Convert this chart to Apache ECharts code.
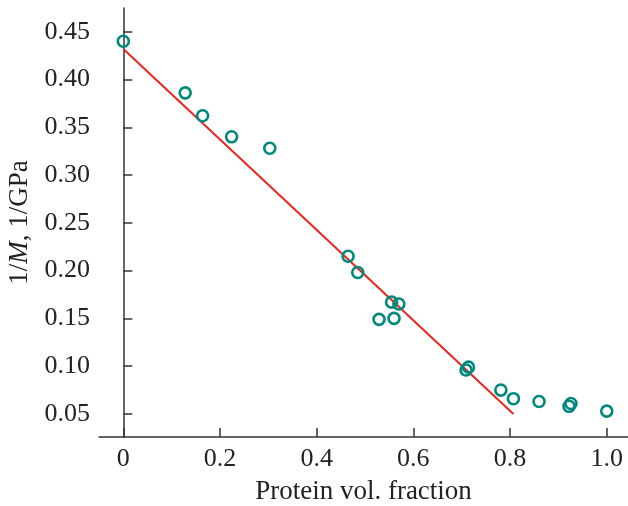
<!DOCTYPE html>
<html>
<head>
<meta charset="utf-8">
<script src="https://cdn.jsdelivr.net/npm/echarts@6/dist/echarts.min.js"></script>
<style>
  html, body { margin: 0; padding: 0; background: #fff; }
  #chart { width: 628px; height: 506px; }
</style>
</head>
<body>
<div id="chart"></div>
<script>
// measured points: protein vol. fraction vs 1/M
var fraction = [0, 0.128, 0.164, 0.224, 0.303, 0.465, 0.485, 0.555, 0.570, 0.529, 0.560,
  0.709, 0.714, 0.781, 0.807, 0.860, 0.922, 0.926, 1.0];
var invModulus = [0.440, 0.386, 0.362, 0.340, 0.328, 0.215, 0.198, 0.167, 0.165, 0.149, 0.150,
  0.096, 0.099, 0.075, 0.066, 0.063, 0.058, 0.061, 0.053];
// linear fit ends
var fitX = [0, 0.807];
var fitY = [0.432, 0.050];
var xTicks = [0, 0.2, 0.4, 0.6, 0.8, 1.0];
var yTicks = [0.05, 0.10, 0.15, 0.20, 0.25, 0.30, 0.35, 0.40, 0.45];

var font = '"Liberation Serif", serif';
var chart = echarts.init(document.getElementById('chart'));

var points = fraction.map(function (x, i) { return [x, invModulus[i]]; });
var fit = fitX.map(function (x, i) { return [x, fitY[i]]; });

chart.setOption({
  animation: false,
  grid: { left: 99, right: 0, top: 8, bottom: 69, containLabel: false, outerBoundsMode: 'none' },
  xAxis: {
    type: 'value',
    min: -0.0503,
    max: 1.044,
    name: 'Protein vol. fraction',
    nameLocation: 'middle',
    nameGap: 41,
    nameTextStyle: { fontFamily: font, fontSize: 27, color: '#222' },
    splitLine: { show: false },
    axisLine: { lineStyle: { color: '#333', width: 1.5 } },
    axisTick: { inside: true, length: 9, lineStyle: { color: '#333', width: 1.5 }, customValues: xTicks },
    axisLabel: {
      customValues: xTicks,
      margin: 9,
      fontFamily: font, fontSize: 26, color: '#222',
      formatter: function (v) { return v === 0 ? '0' : v.toFixed(1); }
    }
  },
  yAxis: {
    type: 'value',
    min: 0.0259,
    max: 0.4748,
    name: '{a|1/}{i|M}{a|, 1/GPa}',
    nameLocation: 'middle',
    nameGap: 65,
    nameTextStyle: {
      rich: {
        a: { fontFamily: font, fontSize: 27, color: '#222' },
        i: { fontFamily: font, fontSize: 27, color: '#222', fontStyle: 'italic' }
      }
    },
    splitLine: { show: false },
    axisLine: { lineStyle: { color: '#333', width: 1.5 } },
    axisTick: { inside: true, length: 9, lineStyle: { color: '#333', width: 1.5 }, customValues: yTicks },
    axisLabel: {
      customValues: yTicks,
      margin: 9,
      fontFamily: font, fontSize: 26, color: '#222',
      formatter: function (v) { return v.toFixed(2); }
    }
  },
  series: [
    {
      type: 'line',
      data: fit,
      symbol: 'none',
      lineStyle: { color: '#e8261f', width: 2 },
      z: 2
    },
    {
      type: 'scatter',
      data: points,
      symbol: 'circle',
      symbolSize: 11,
      itemStyle: { color: 'rgba(0,0,0,0)', borderColor: '#00897b', borderWidth: 2.6, opacity: 1 },
      z: 3
    }
  ]
});
</script>
</body>
</html>
